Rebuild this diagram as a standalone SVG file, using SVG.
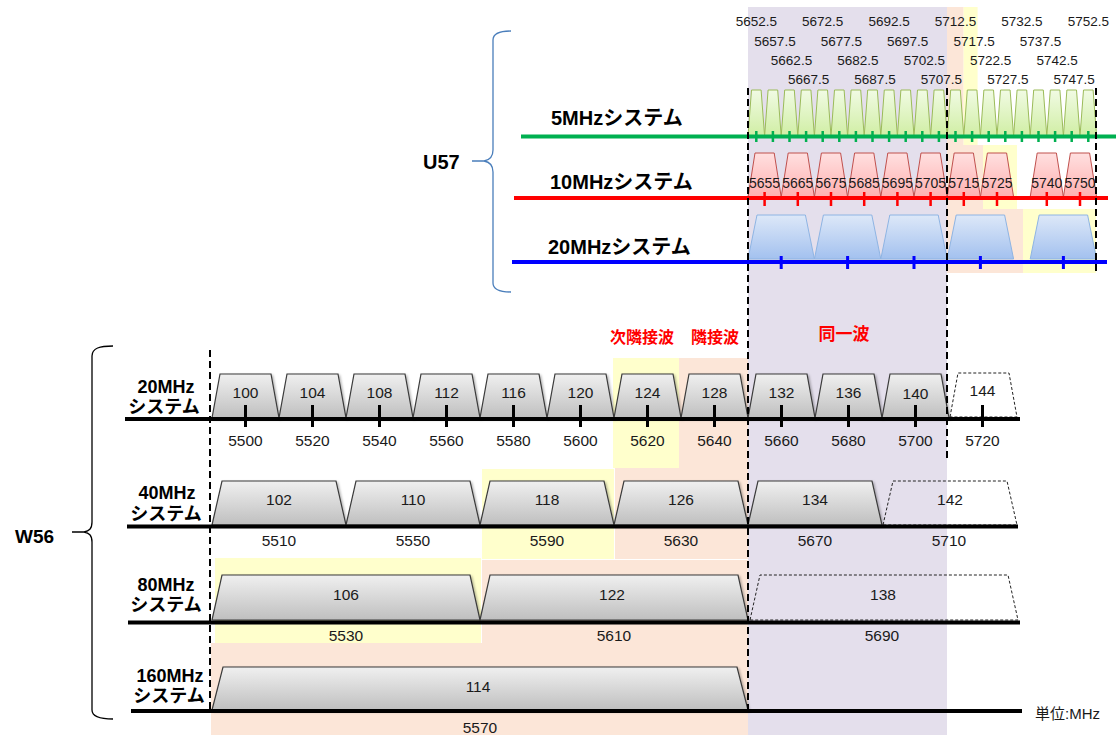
<svg xmlns="http://www.w3.org/2000/svg" width="1118" height="735" viewBox="0 0 1118 735">
<style>
.lav{fill:#e4dfec}
.pch{fill:#fce6d8}
.yel{fill:#ffffcc}
text{font-family:"Liberation Sans","Noto Sans CJK JP",sans-serif}
.num{font-size:15.5px;fill:#1a1a1a;text-anchor:middle}
.tn{font-size:13.5px;fill:#1a1a1a;text-anchor:middle}
.rn{font-size:14px;fill:#1a1a1a;text-anchor:middle}
.lbl{font-size:18px;font-weight:bold;fill:#000;text-anchor:middle}
.ulbl{font-size:20px;font-weight:bold;fill:#000}
.red{font-size:16px;font-weight:bold;fill:#ff0000;text-anchor:middle}
.g5{fill:url(#gg);stroke:#9bbb59;stroke-width:1}
.r10{fill:url(#gr);stroke:#c0504d;stroke-width:1}
.b20{fill:url(#gb);stroke:#8eb4e3;stroke-width:1}
.w{fill:url(#gw);stroke:#3a3a3a;stroke-width:1.2;filter:url(#sh)}
.wd{fill:none;stroke:#222;stroke-width:1;stroke-dasharray:3 2}
.ax{stroke:#000;stroke-width:4;fill:none}
.tk{stroke:#000;stroke-width:3;fill:none}
.dv{stroke:#000;stroke-width:2;stroke-dasharray:7 4;fill:none}
</style>
<defs>
<linearGradient id="gg" x1="0" y1="0" x2="0" y2="1"><stop offset="0" stop-color="#f1fbe4"/><stop offset="1" stop-color="#d0eea4"/></linearGradient>
<linearGradient id="gr" x1="0" y1="0" x2="0" y2="1"><stop offset="0" stop-color="#ffe0e0"/><stop offset="1" stop-color="#ffb0b0"/></linearGradient>
<linearGradient id="gb" x1="0" y1="0" x2="0" y2="1"><stop offset="0" stop-color="#dde8f8"/><stop offset="1" stop-color="#a3c1ef"/></linearGradient>
<linearGradient id="gw" x1="0" y1="0" x2="0" y2="1"><stop offset="0" stop-color="#f0f0f0"/><stop offset="1" stop-color="#bfbfbf"/></linearGradient>
<filter id="sh" x="-5%" y="-10%" width="115%" height="130%"><feDropShadow dx="1.5" dy="1.5" stdDeviation="1.2" flood-color="#000" flood-opacity="0.3"/></filter>
<path id="t5" d="M0,46 L3.5,0 L13.1,0 L16.6,46 Z"/>
<path id="t10" d="M0,44 L7,0 L26.2,0 L33.2,44 Z"/>
<path id="t20u" d="M0,44 L9,0 L57.4,0 L66.4,44 Z"/>
<path id="t20" d="M0,44 L8,0 L59,0 L67,44 Z"/>
<path id="t40" d="M0,44 L10,0 L124,0 L134,44 Z"/>
<path id="t80" d="M0,45 L10,0 L258,0 L268,45 Z"/>
<path id="t160" d="M0,43 L11,0 L525,0 L536,43 Z"/>
</defs>

<g id="backgrounds">
<rect class="lav" x="748" y="7" width="199" height="728"/>
<rect class="pch" x="947" y="7" width="16.6" height="138"/>
<rect class="yel" x="963.6" y="7" width="14" height="138"/>
<rect class="pch" x="947" y="145" width="36" height="64"/>
<rect class="yel" x="983" y="145" width="34" height="64"/>
<rect class="pch" x="947" y="209" width="76" height="64"/>
<rect class="yel" x="1023" y="209" width="73" height="64"/>
<rect class="yel" x="613" y="358" width="66" height="110"/>
<rect class="pch" x="679" y="358" width="69" height="110"/>
<rect class="yel" x="482" y="469" width="132" height="90"/>
<rect class="pch" x="615" y="468" width="133" height="91"/>
<rect class="yel" x="215" y="558" width="266" height="85"/>
<rect class="pch" x="482" y="560" width="266" height="83"/>
<rect class="pch" x="211" y="643" width="537" height="92"/>
</g>

<g id="u57-freq-labels">
<text class="tn" x="756.3" y="26">5652.5</text>
<text class="tn" x="822.7" y="26">5672.5</text>
<text class="tn" x="889.1" y="26">5692.5</text>
<text class="tn" x="955.5" y="26">5712.5</text>
<text class="tn" x="1021.9" y="26">5732.5</text>
<text class="tn" x="1088.3" y="26">5752.5</text>
<text class="tn" x="775" y="46">5657.5</text>
<text class="tn" x="841.3" y="46">5677.5</text>
<text class="tn" x="907.7" y="46">5697.5</text>
<text class="tn" x="974.1" y="46">5717.5</text>
<text class="tn" x="1040.5" y="46">5737.5</text>
<text class="tn" x="791.5" y="65">5662.5</text>
<text class="tn" x="857.9" y="65">5682.5</text>
<text class="tn" x="924.3" y="65">5702.5</text>
<text class="tn" x="990.7" y="65">5722.5</text>
<text class="tn" x="1057.1" y="65">5742.5</text>
<text class="tn" x="808.6" y="84">5667.5</text>
<text class="tn" x="875" y="84">5687.5</text>
<text class="tn" x="941.4" y="84">5707.5</text>
<text class="tn" x="1007.8" y="84">5727.5</text>
<text class="tn" x="1074.2" y="84">5747.5</text>
</g>

<g id="u57-5mhz" class="g5">
<use href="#t5" x="748" y="90"/><use href="#t5" x="764.6" y="90"/><use href="#t5" x="781.2" y="90"/><use href="#t5" x="797.8" y="90"/><use href="#t5" x="814.4" y="90"/><use href="#t5" x="831" y="90"/><use href="#t5" x="847.6" y="90"/><use href="#t5" x="864.2" y="90"/><use href="#t5" x="880.8" y="90"/><use href="#t5" x="897.4" y="90"/><use href="#t5" x="914" y="90"/><use href="#t5" x="930.6" y="90"/><use href="#t5" x="947.2" y="90"/><use href="#t5" x="963.8" y="90"/><use href="#t5" x="980.4" y="90"/><use href="#t5" x="997" y="90"/><use href="#t5" x="1013.6" y="90"/><use href="#t5" x="1030.2" y="90"/><use href="#t5" x="1046.8" y="90"/><use href="#t5" x="1063.4" y="90"/><use href="#t5" x="1080" y="90"/>
</g>

<g id="u57-10mhz">
<g id="c5655"><use class="r10" href="#t10" x="748" y="153"/><text class="rn" x="764.6" y="188">5655</text></g>
<g id="c5665"><use class="r10" href="#t10" x="781.2" y="153"/><text class="rn" x="797.8" y="188">5665</text></g>
<g id="c5675"><use class="r10" href="#t10" x="814.4" y="153"/><text class="rn" x="831" y="188">5675</text></g>
<g id="c5685"><use class="r10" href="#t10" x="847.6" y="153"/><text class="rn" x="864.2" y="188">5685</text></g>
<g id="c5695"><use class="r10" href="#t10" x="880.8" y="153"/><text class="rn" x="897.4" y="188">5695</text></g>
<g id="c5705"><use class="r10" href="#t10" x="914" y="153"/><text class="rn" x="930.6" y="188">5705</text></g>
<g id="c5715"><use class="r10" href="#t10" x="947.2" y="153"/><text class="rn" x="963.8" y="188">5715</text></g>
<g id="c5725"><use class="r10" href="#t10" x="980.4" y="153"/><text class="rn" x="997" y="188">5725</text></g>
<g id="c5740"><use class="r10" href="#t10" x="1030.2" y="153"/><text class="rn" x="1046.8" y="188">5740</text></g>
<g id="c5750"><use class="r10" href="#t10" x="1063.4" y="153"/><text class="rn" x="1080" y="188">5750</text></g>
</g>

<g id="u57-20mhz" class="b20">
<use href="#t20u" x="748" y="215"/><use href="#t20u" x="814.4" y="215"/><use href="#t20u" x="880.8" y="215"/><use href="#t20u" x="947.2" y="215"/><use href="#t20u" x="1030.2" y="215"/>
</g>

<g id="w56-20mhz">
<g id="ch100"><use class="w" href="#t20" x="212" y="374"/><text class="num" x="245.5" y="398">100</text></g>
<g id="ch104"><use class="w" href="#t20" x="279" y="374"/><text class="num" x="312.5" y="398">104</text></g>
<g id="ch108"><use class="w" href="#t20" x="346" y="374"/><text class="num" x="379.5" y="398">108</text></g>
<g id="ch112"><use class="w" href="#t20" x="413" y="374"/><text class="num" x="446.5" y="398">112</text></g>
<g id="ch116"><use class="w" href="#t20" x="480" y="374"/><text class="num" x="513.5" y="398">116</text></g>
<g id="ch120"><use class="w" href="#t20" x="547" y="374"/><text class="num" x="580.5" y="398">120</text></g>
<g id="ch124"><use class="w" href="#t20" x="614" y="374"/><text class="num" x="647.5" y="398">124</text></g>
<g id="ch128"><use class="w" href="#t20" x="681" y="374"/><text class="num" x="714.5" y="398">128</text></g>
<g id="ch132"><use class="w" href="#t20" x="748" y="374"/><text class="num" x="781.5" y="398">132</text></g>
<g id="ch136"><use class="w" href="#t20" x="815" y="374"/><text class="num" x="848.5" y="398">136</text></g>
<g id="ch140"><use class="w" href="#t20" x="882" y="374"/><text class="num" x="915.5" y="399">140</text></g>
<g id="ch144"><use class="wd" href="#t20" x="950" y="373"/><text class="num" x="982.5" y="396">144</text></g>
</g>

<g id="w56-40mhz">
<g id="ch102"><use class="w" href="#t40" x="212" y="481"/><text class="num" x="279" y="505">102</text></g>
<g id="ch110"><use class="w" href="#t40" x="346" y="481"/><text class="num" x="413" y="505">110</text></g>
<g id="ch118"><use class="w" href="#t40" x="480" y="481"/><text class="num" x="547" y="505">118</text></g>
<g id="ch126"><use class="w" href="#t40" x="614" y="481"/><text class="num" x="681" y="505">126</text></g>
<g id="ch134"><use class="w" href="#t40" x="748" y="481"/><text class="num" x="815" y="505">134</text></g>
<g id="ch142"><use class="wd" href="#t40" x="883" y="481"/><text class="num" x="950" y="505">142</text></g>
</g>

<g id="w56-80mhz">
<g id="ch106"><use class="w" href="#t80" x="212" y="575"/><text class="num" x="346" y="600">106</text></g>
<g id="ch122"><use class="w" href="#t80" x="480" y="575"/><text class="num" x="612" y="600">122</text></g>
<g id="ch138"><use class="wd" href="#t80" x="750" y="575"/><text class="num" x="883" y="600">138</text></g>
</g>

<g id="w56-160mhz">
<g id="ch114"><use class="w" href="#t160" x="212" y="667"/><text class="num" x="478" y="692">114</text></g>
</g>

<g id="connectors">
<path class="ax" style="stroke:#00b050" d="M521,136.5H1116"/>
<path style="stroke:#00b050;stroke-width:2.5;fill:none" d="M756.3,131V142M772.9,131V142M789.5,131V142M806.1,131V142M822.7,131V142M839.3,131V142M855.9,131V142M872.5,131V142M889.1,131V142M905.7,131V142M922.3,131V142M938.9,131V142M955.5,131V142M972.1,131V142M988.7,131V142M1005.3,131V142M1021.9,131V142M1038.5,131V142M1055.1,131V142M1071.7,131V142M1088.3,131V142"/>
<path class="ax" style="stroke:#ff0000" d="M514,198H1108"/>
<path style="stroke:#ff0000;stroke-width:2.5;fill:none" d="M764.6,192V206M797.8,192V206M831,192V206M864.2,192V206M897.4,192V206M930.6,192V206M963.8,192V206M997,192V206M1046.8,192V206M1080,192V206"/>
<path class="ax" style="stroke:#0000ff" d="M512,262H1107"/>
<path style="stroke:#0000ff;stroke-width:3;fill:none" d="M781.2,256V269M847.6,256V269M914,256V269M980.4,256V269M1063.4,256V269"/>
<path class="ax" d="M125,419H1020"/>
<path class="tk" d="M245.5,405V427M312.5,405V427M379.5,405V427M446.5,405V427M513.5,405V427M580.5,405V427M647.5,405V427M714.5,405V427M781.5,405V427M848.5,405V427M915.5,405V427M982.5,405V427"/>
<path class="ax" d="M127,526.5H1018"/>
<path class="ax" d="M128,622.5H1020"/>
<path class="ax" d="M131,711H1022"/>
<path class="dv" d="M210,350V712"/>
<path class="dv" d="M748,88V712"/>
<path class="dv" d="M947,88V458"/>
<path class="dv" d="M1096,88V275"/>
<path d="M511,31C500,31 493,33 493,40L493,150C493,157 490,160 484,161L472,161M484,161C490,162 493,165 493,172L493,283C493,290 500,292 511,292" fill="none" stroke="#4a7ebb" stroke-width="1.3"/>
<path d="M113,346C100,346 92,348 92,356L92,522C92,529 89,531 84,532L72,532M84,532C89,533 92,535 92,542L92,710C92,717 100,719 113,719" fill="none" stroke="#000" stroke-width="1.3"/>
</g>

<g id="w56-freq-labels">
<text class="num" x="245.5" y="446">5500</text>
<text class="num" x="312.5" y="446">5520</text>
<text class="num" x="379.5" y="446">5540</text>
<text class="num" x="446.5" y="446">5560</text>
<text class="num" x="513.5" y="446">5580</text>
<text class="num" x="580.5" y="446">5600</text>
<text class="num" x="647.5" y="446">5620</text>
<text class="num" x="714.5" y="446">5640</text>
<text class="num" x="781.5" y="446">5660</text>
<text class="num" x="848.5" y="446">5680</text>
<text class="num" x="915.5" y="446">5700</text>
<text class="num" x="982.5" y="446">5720</text>
<text class="num" x="279" y="546">5510</text>
<text class="num" x="413" y="546">5550</text>
<text class="num" x="547" y="546">5590</text>
<text class="num" x="681" y="546">5630</text>
<text class="num" x="815" y="546">5670</text>
<text class="num" x="949" y="546">5710</text>
<text class="num" x="346" y="641">5530</text>
<text class="num" x="614" y="641">5610</text>
<text class="num" x="882" y="641">5690</text>
<text class="num" x="480" y="733">5570</text>
</g>

<g id="labels">
<text class="ulbl" x="551" y="125">5MHzシステム</text>
<text class="ulbl" x="550" y="189">10MHzシステム</text>
<text class="ulbl" x="548" y="254">20MHzシステム</text>
<text class="ulbl" x="423" y="169">U57</text>
<text class="ulbl" x="15" y="543" style="font-size:19px">W56</text>
<text class="lbl" x="166" y="393">20MHz</text>
<text class="lbl" x="164" y="413">システム</text>
<text class="lbl" x="167" y="499">40MHz</text>
<text class="lbl" x="166" y="520">システム</text>
<text class="lbl" x="166" y="591">80MHz</text>
<text class="lbl" x="166" y="611">システム</text>
<text class="lbl" x="170" y="682">160MHz</text>
<text class="lbl" x="169" y="702">システム</text>
<text class="red" x="642" y="343">次隣接波</text>
<text class="red" x="715" y="343">隣接波</text>
<text class="red" x="844" y="340" style="font-size:17px">同一波</text>
<text x="1035" y="719" style="font-size:15px;fill:#1a1a1a">単位:MHz</text>
</g>
</svg>
